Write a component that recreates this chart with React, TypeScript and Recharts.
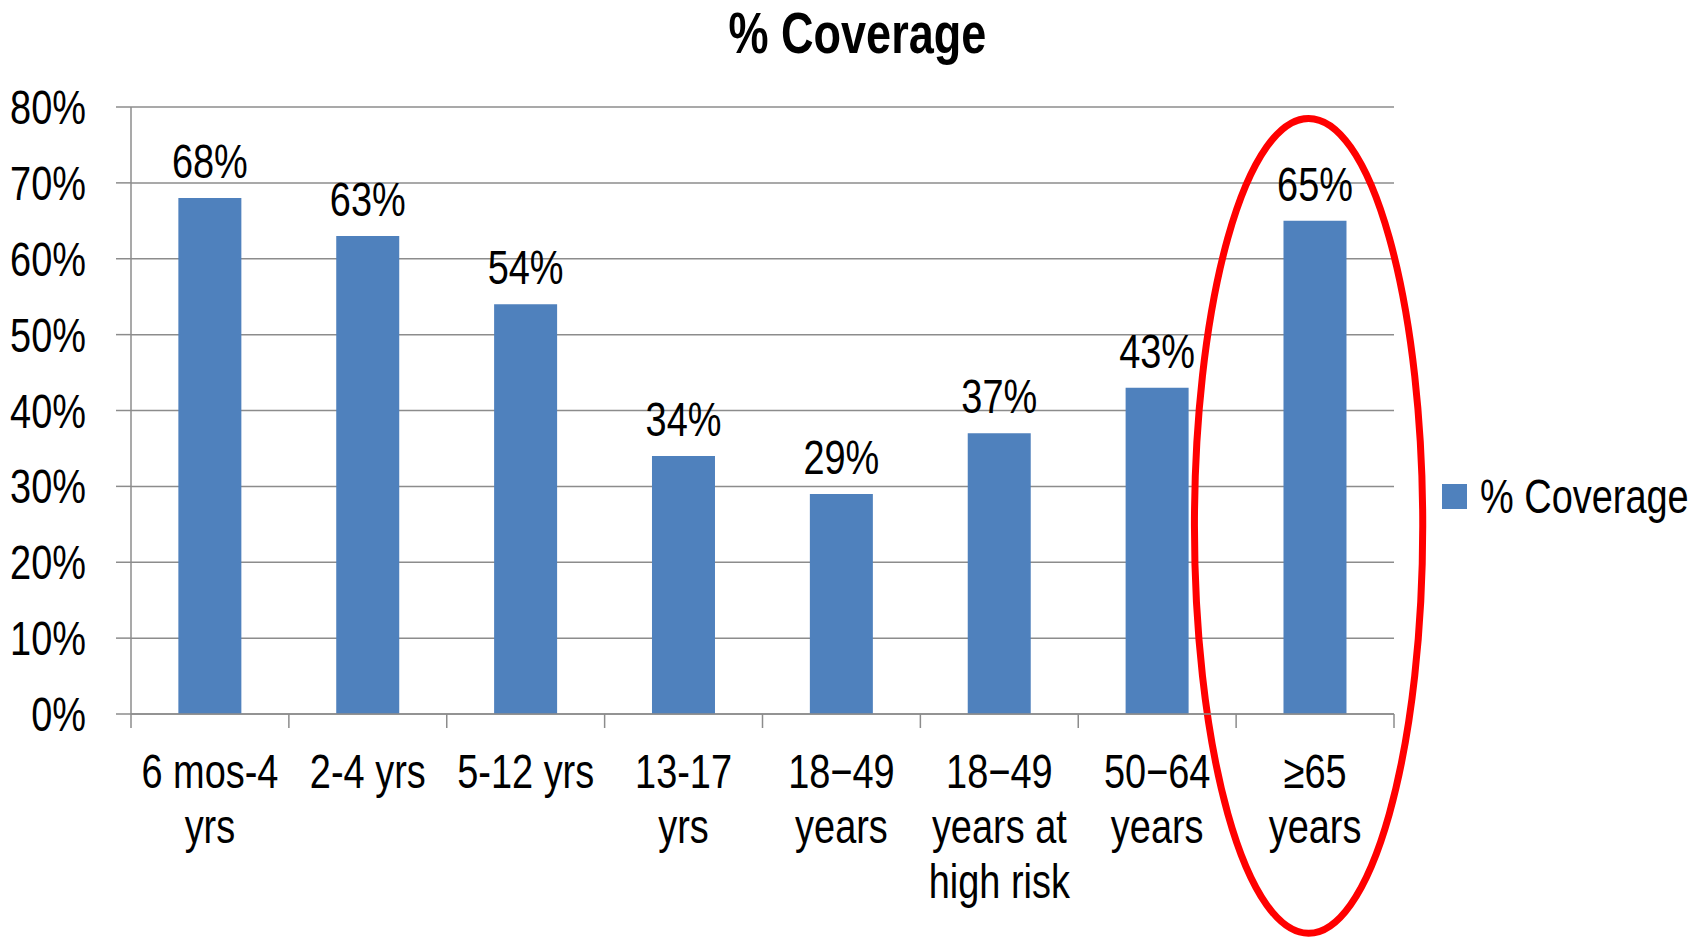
import React from "react";
import { BarChart, Bar, XAxis, YAxis, CartesianGrid, Legend, LabelList, ReferenceArea } from "recharts";

const FONT = "'Liberation Sans', Arial, sans-serif";
const FONT_SIZE = 48;
const NARROW = 0.79; // squeeze Liberation Sans to look like Arial Narrow
const GRID = "#8c8c8c";
const BAR_BLUE = "#4F81BD";

// categories shown along the x axis
const ageGroups = [
  "6 mos-4 yrs",
  "2-4 yrs",
  "5-12 yrs",
  "13-17 yrs",
  "18−49 years",
  "18−49 years at high risk",
  "50−64 years",
  "≥65 years",
];
// how each category label breaks onto lines
const ageGroupLines = [
  ["6 mos-4", "yrs"],
  ["2-4 yrs"],
  ["5-12 yrs"],
  ["13-17", "yrs"],
  ["18−49", "years"],
  ["18−49", "years at", "high risk"],
  ["50−64", "years"],
  ["≥65", "years"],
];
// % Coverage per group
const coverage = [68, 63, 54, 34, 29, 37, 43, 65];
const yTicks = [0, 10, 20, 30, 40, 50, 60, 70, 80];

// circled group and the vertical extent of the red ring (in % units)
const highlightGroup = "≥65 years";
const ringTop = 78.5;
const ringBottom = -28.9;

const data = ageGroups.map((group, i) => ({ group, coverage: coverage[i] }));

const CategoryTick = (props: any) => {
  const { x, y, payload, index, width, visibleTicksCount } = props;
  const lines = ageGroupLines[ageGroups.indexOf(payload.value)] || [payload.value];
  const band = width && visibleTicksCount ? width / visibleTicksCount : (payload.offset || 0) * 2;
  const last = index === (visibleTicksCount || ageGroups.length) - 1;
  return (
    <g>
      <line x1={x - band / 2} x2={x - band / 2} y1={y} y2={y + 14} stroke={GRID} strokeWidth={1.5} />
      {last && <line x1={x + band / 2} x2={x + band / 2} y1={y} y2={y + 14} stroke={GRID} strokeWidth={1.5} />}
      <g transform={`translate(${x},${y + 74}) scale(${NARROW},1)`}>
        <text x={0} y={0} textAnchor="middle" fill="#000" fontSize={FONT_SIZE} fontFamily={FONT}>
          {lines.map((line, i) => (
            <tspan key={i} x={0} dy={i === 0 ? 0 : 55}>
              {line}
            </tspan>
          ))}
        </text>
      </g>
    </g>
  );
};

const PercentTick = (props: any) => {
  const { x, y, payload } = props;
  return (
    <g transform={`translate(${x},${y}) scale(${NARROW},1)`}>
      <text x={0} y={0} dy="0.355em" textAnchor="end" fill="#000" fontSize={FONT_SIZE} fontFamily={FONT}>
        {`${payload.value}%`}
      </text>
    </g>
  );
};

const BarValue = (props: any) => {
  const { x, y, width, value } = props;
  return (
    <g transform={`translate(${x + width / 2},${y - 20}) scale(${NARROW},1)`}>
      <text x={0} y={0} textAnchor="middle" fill="#000" fontSize={FONT_SIZE} fontFamily={FONT}>
        {`${value}%`}
      </text>
    </g>
  );
};

const Ring = (props: any) => {
  const { x, y, width, height } = props;
  if (width == null || height == null) return null;
  return (
    <ellipse
      cx={x + width * 0.459}
      cy={y + height / 2}
      rx={width * 0.723}
      ry={height / 2}
      fill="none"
      stroke="#ff0000"
      strokeWidth={7}
    />
  );
};

const LegendBox = () => (
  <div
    style={{
      width: 313,
      height: 50,
      display: "flex",
      alignItems: "center",
      paddingLeft: 48,
      boxSizing: "border-box",
      fontFamily: FONT,
      fontSize: FONT_SIZE,
      color: "#000",
      whiteSpace: "nowrap",
    }}
  >
    <span style={{ display: "inline-block", width: 25, height: 25, background: BAR_BLUE, marginRight: 13, flex: "none" }} />
    <span style={{ display: "inline-block", transform: `scaleX(${NARROW})`, transformOrigin: "left center" }}>
      % Coverage
    </span>
  </div>
);

export default function App() {
  return (
    <div style={{ position: "absolute", left: 0, top: 0, width: 1707, height: 939, background: "#fff" }}>
      <div
        style={{
          position: "absolute",
          left: 0,
          top: 5,
          width: 1715,
          textAlign: "center",
          fontFamily: FONT,
          fontWeight: "bold",
          fontSize: 57,
          lineHeight: 1,
          color: "#000",
          transform: `scaleX(${NARROW})`,
          transformOrigin: "857px 0",
        }}
      >
        % Coverage
      </div>
      <BarChart
        width={1707}
        height={939}
        data={data}
        margin={{ top: 107, right: 0, bottom: 0, left: 0 }}
        barCategoryGap="30%"
      >
        <CartesianGrid vertical={false} stroke={GRID} strokeWidth={1.5} />
        <XAxis
          dataKey="group"
          height={225}
          interval={0}
          tickLine={false}
          tickSize={0}
          tickMargin={0}
          axisLine={{ stroke: GRID, strokeWidth: 1.5 }}
          tick={<CategoryTick />}
        />
        <YAxis
          width={131}
          domain={[0, 80]}
          ticks={yTicks}
          interval={0}
          tickSize={15}
          tickMargin={30}
          axisLine={{ stroke: GRID, strokeWidth: 1.5 }}
          tickLine={{ stroke: GRID, strokeWidth: 1.5 }}
          tick={<PercentTick />}
        />
        <Legend
          layout="vertical"
          align="right"
          verticalAlign="middle"
          wrapperStyle={{ top: 471 }}
          content={() => <LegendBox />}
        />
        <Bar dataKey="coverage" name="% Coverage" fill={BAR_BLUE} isAnimationActive={false}>
          <LabelList dataKey="coverage" content={<BarValue />} />
        </Bar>
        <ReferenceArea
          x1={highlightGroup}
          x2={highlightGroup}
          y1={ringBottom}
          y2={ringTop}
          ifOverflow="visible"
          shape={<Ring />}
        />
      </BarChart>
    </div>
  );
}
